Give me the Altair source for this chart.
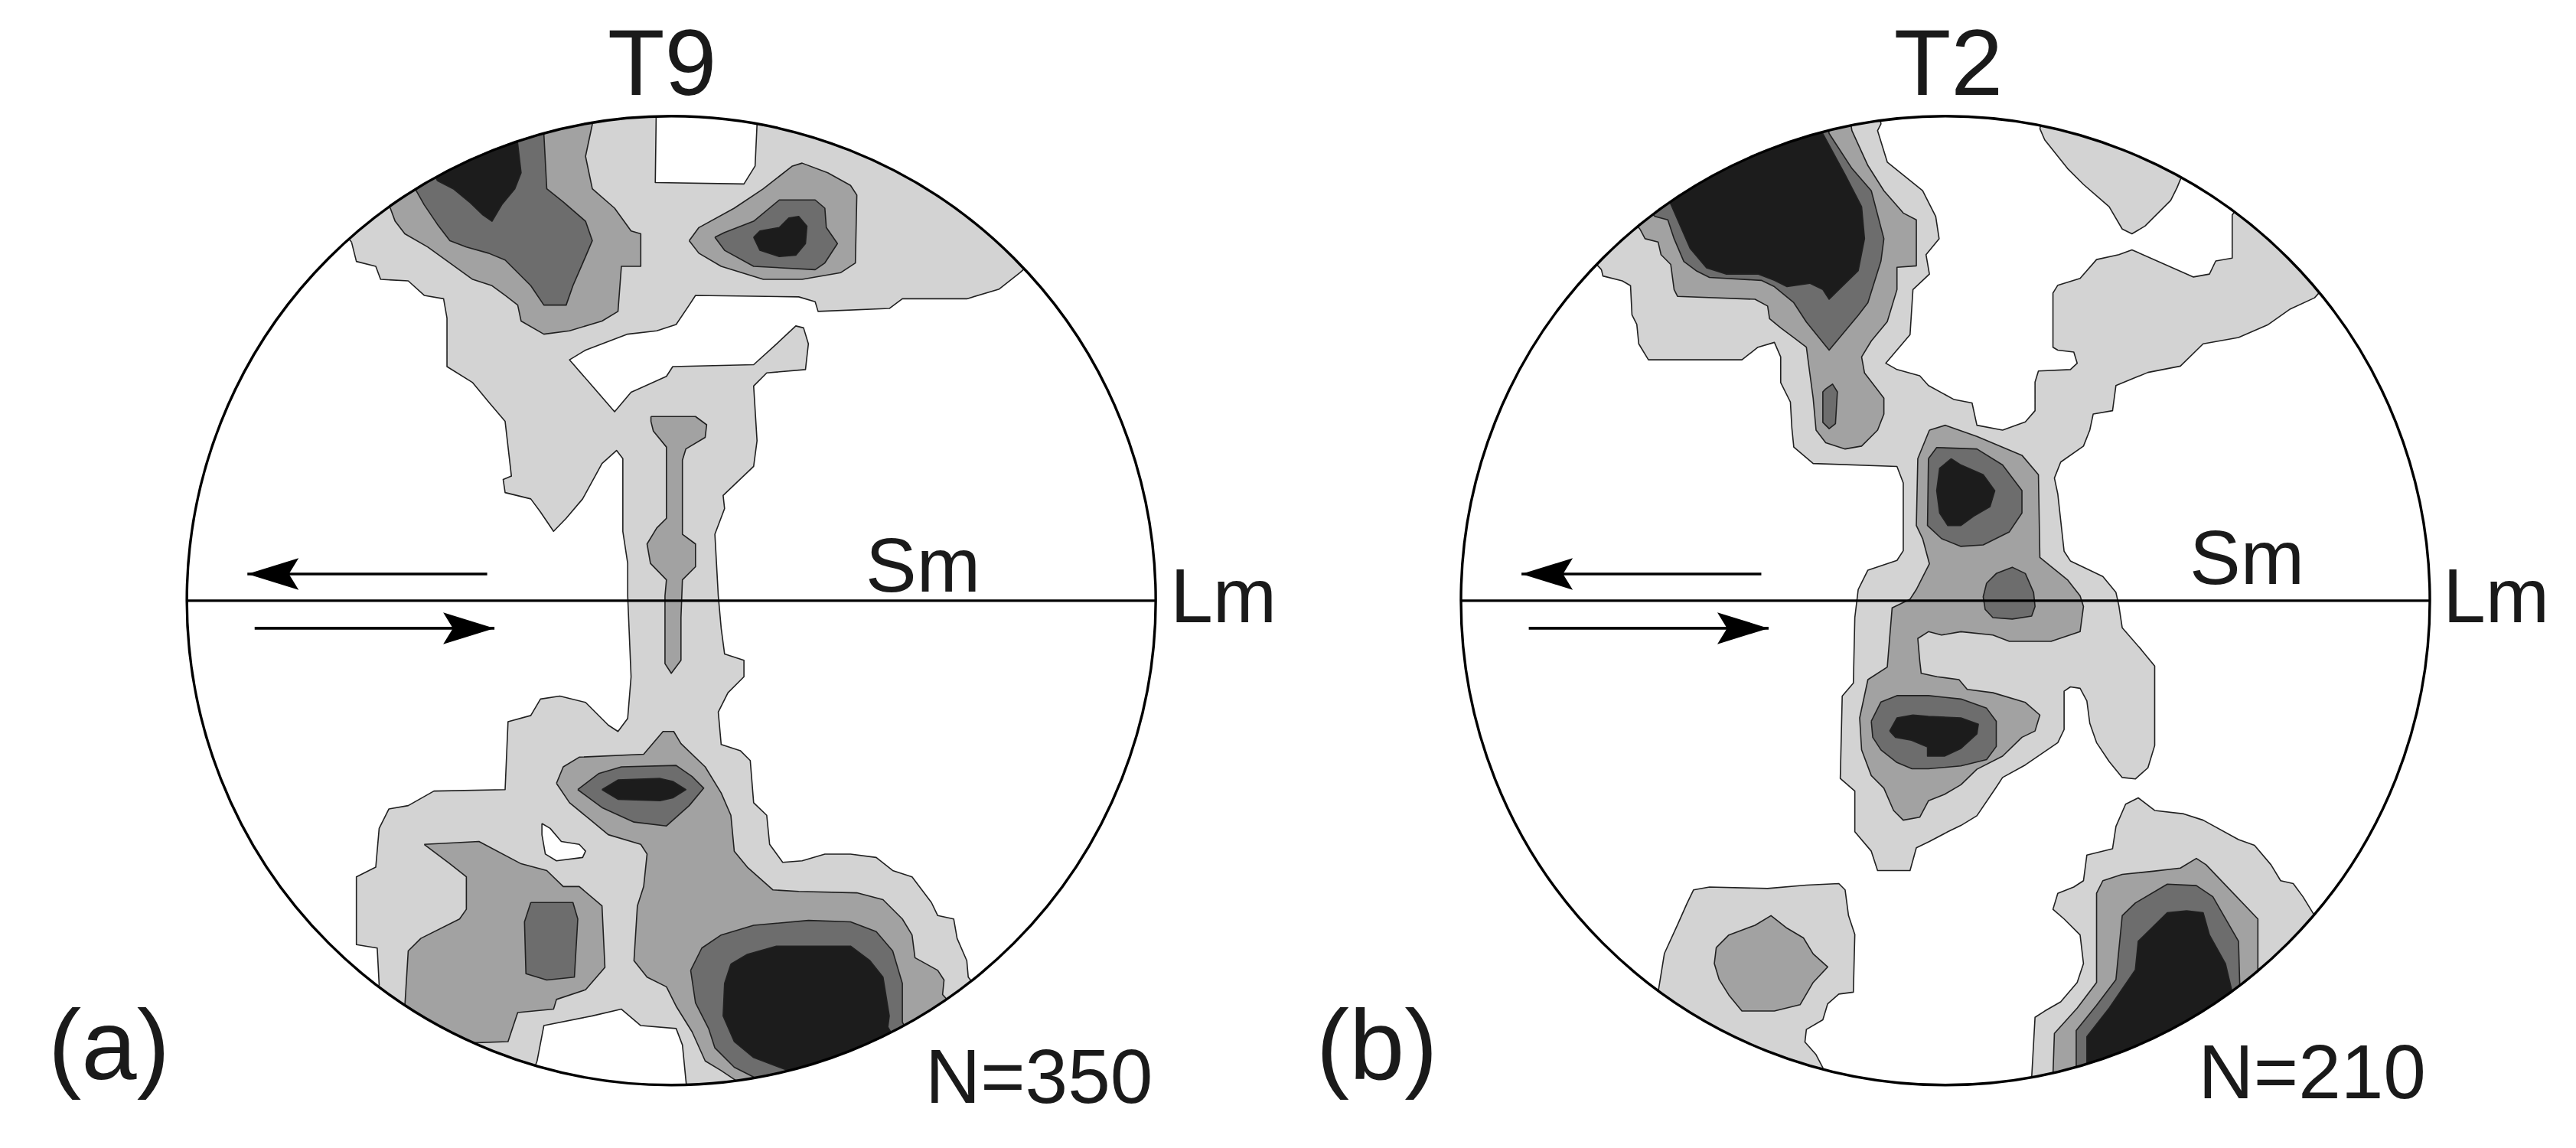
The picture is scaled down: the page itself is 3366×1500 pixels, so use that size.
import altair as alt
import pandas as pd

# ---------------------------------------------------------------------------
# Net coordinates: percent of the net radius, x to the right, y upward.
# Level: 1 = light grey, 0 = white gap, 2 = medium grey, 3 = dark grey, 4 = black
# ---------------------------------------------------------------------------

# ----- (a) T9, N=350 -----
A_LIGHT = [(-66, 74), (-73, 82), (-38, 103), (-3, 109), (-3.3, 86.3), (15, 86), (17.3, 89.7), (17.7, 98.3),
           (19, 108), (55, 93), (79, 74), (72, 67.7), (67.7, 64.3), (61, 62.3), (47.7, 62.3), (45, 60.3),
           (30.3, 59.7), (29.7, 61.7), (26.3, 62.7), (5, 63), (3.7, 61), (1, 57), (-3, 55.7), (-9, 55),
           (-17.7, 51.7), (-21, 49.7), (-11.7, 39), (-8.3, 43), (-1, 46.3), (0.3, 48.3), (17, 48.7),
           (21, 52.3), (25.7, 56.7), (27.3, 56.3), (28.3, 53), (27.7, 47.7), (19.7, 47), (17, 44.3),
           (17.7, 33), (17, 27.7), (10.7, 21.7), (11, 19), (9, 13.7), (9.7, 1), (10.3, -5.7), (11, -11),
           (15, -12.3), (15, -15.7), (11.7, -19), (9.7, -23), (10.3, -29.7), (14.3, -31), (16.3, -33),
           (17, -41.7), (19.7, -44.3), (20.3, -50.3), (23, -54), (27, -53.7), (31.7, -52.3), (37, -52.3),
           (42.3, -53), (45.7, -55.7), (49.7, -57), (53.7, -62.3), (55, -65), (58.3, -65.7), (59, -69.7),
           (61, -74.3), (61.3, -77.7), (68, -86), (29, -104), (4, -109), (2.3, -91.7), (1, -88.3),
           (-6.3, -87.7), (-10.3, -84.3), (-16.3, -85.7), (-26.3, -87.7), (-27.7, -95), (-31, -104),
           (-55, -93), (-66, -86), (-60.3, -79.3), (-60.7, -71.7), (-65, -71), (-65, -57), (-61, -55),
           (-60.3, -47), (-58.3, -43), (-54.3, -42.3), (-49, -39.3), (-34.3, -39), (-33.7, -25), (-29, -23.7),
           (-27, -20.3), (-23, -19.7), (-17.7, -21), (-13, -25.7), (-11, -27), (-9, -24.3), (-8.3, -15.7),
           (-9, 1), (-9, 7.7), (-10, 14.3), (-10, 29.3), (-11.3, 31), (-14.3, 28.3), (-18.3, 21),
           (-21.7, 17), (-24.3, 14.3), (-27, 18.3), (-29, 21), (-34.3, 22.3), (-34.7, 25), (-33, 25.7),
           (-34.3, 37), (-37.7, 41), (-41, 45), (-46.3, 48.3), (-46.3, 58.3), (-47, 62.3), (-51, 63),
           (-54.3, 66), (-60, 66.3), (-61, 69), (-65, 70)]
A_GAP = [(-26.7, -46), (-25, -47), (-22.7, -49.7), (-19, -50.3), (-17.7, -51.7), (-18.3, -53),
         (-23.7, -53.7), (-26, -52.3), (-26.7, -48.3)]
A_MED_TL = [(-58, 81), (-57, 78.3), (-55, 75.7), (-50.3, 73), (-45.7, 69.7), (-41, 66.3), (-37, 65),
            (-34.3, 63), (-31.7, 61), (-31, 57.7), (-26.3, 55), (-21, 55.7), (-14.3, 57.7), (-11, 59.7),
            (-10.3, 69), (-6.3, 69), (-6.3, 75.7), (-8.3, 76.3), (-11.7, 81), (-16.3, 85), (-17.7, 91.7),
            (-16.3, 98.3), (-18, 109), (-45, 100), (-64, 88)]
A_MED_TR = [(3.7, 74.3), (5.7, 77), (13, 81), (19, 85), (25, 89.7), (27, 90.3), (32.3, 88.3), (37, 85.7),
            (38.3, 83.7), (38, 69.7), (35, 67.7), (27, 66.3), (19, 66.3), (10.3, 69), (5.7, 71.7)]
A_MED_STEM = [(-4.2, 38), (5, 38), (7.3, 36.3), (7, 33.7), (3, 31.3), (2.3, 29), (2.3, 13.7), (5, 11.7),
              (5, 7), (2.3, 4.3), (2, -3.5), (2, -12.3), (0, -15), (-1.3, -13), (-1.3, 1), (-1, 4.3),
              (-4.3, 7.7), (-5, 11.7), (-3, 15), (-1, 17), (-1, 31.7), (-3.7, 35), (-4.2, 37)]
A_MED_C = [(-23.7, -37.7), (-22.3, -34.3), (-19, -32.3), (-5.7, -31.7), (-1.7, -27), (0.5, -27), (2, -29.5),
           (7, -34.3), (10.3, -39.7), (12.3, -44.3), (13, -51.7), (15.7, -55), (21, -59.7), (26.3, -60),
           (38.3, -60.3), (43.7, -61.7), (47.7, -65.7), (49.7, -69), (50.3, -73.7), (55, -76.3),
           (56.3, -78.3), (56, -81.3), (62, -88), (30, -104), (14, -109), (13.3, -99), (10.3, -97),
           (7, -95), (4.3, -89), (1, -83.7), (-1, -79.7), (-5, -77.7), (-7.7, -74.3), (-7, -63),
           (-5.7, -59), (-5, -52.3), (-6.3, -50.3), (-13, -48.3), (-17, -45), (-21, -41.7)]
A_MED_LL = [(-51, -50.3), (-39.7, -49.7), (-31, -54.3), (-25.7, -55.7), (-22.3, -59), (-19, -59),
            (-14.3, -63), (-13.7, -75.7), (-17.7, -80.3), (-23.7, -82.3), (-24.3, -84.3), (-31.7, -85),
            (-33.7, -91), (-42.3, -91.3), (-47, -101), (-60, -92), (-55, -83.7), (-54.3, -72.3),
            (-51.7, -69.7), (-43.7, -65.7), (-42.3, -63.7), (-42.3, -57), (-45.7, -54.3)]
A_DARK_LL = [(-29, -62.3), (-20.3, -62.3), (-19.3, -65.7), (-20, -77.7), (-25.7, -78.3), (-30, -77),
             (-30.3, -66.3)]
A_DARK_EYE = [(-19.3, -39), (-15, -35.7), (-10.3, -34.3), (1, -34), (4.3, -36.3), (6.7, -38.7),
              (3.7, -42.3), (-1, -46.5), (-7.7, -45.7), (-14.3, -42.7)]
A_BLACK_EYE = [(-14.3, -39), (-11, -37), (-2.3, -36.7), (0.3, -37.3), (3, -39), (0.3, -40.7),
               (-2.3, -41.3), (-11, -41)]
A_DARK_BR = [(4, -76.3), (6.3, -71.7), (10.3, -69), (17, -67), (28.3, -66), (37, -66.3), (42.3, -68.3),
             (45.7, -72.3), (47.7, -79), (47.7, -87), (53, -96), (19, -109), (17, -98.3), (13, -96.3),
             (9, -92.3), (7.7, -88.3), (5, -83)]
A_BLACK_BR = [(12.3, -75), (15.7, -73), (21.7, -71.3), (37, -71.3), (41, -74.3), (43.7, -77.7),
              (45, -85.7), (44.7, -88), (50, -97), (28, -108), (25, -97.3), (17, -94.3), (13, -91),
              (10.7, -85.7), (11, -79)]
A_DARK_TR = [(9, 75), (11, 76), (17, 78.3), (22.3, 82.7), (29.7, 82.7), (31.7, 81), (32, 77), (34.3, 73.7),
             (31.7, 69.7), (29.7, 68.3), (17, 69), (11, 72.3)]
A_BLACK_TR = [(17, 75), (18.3, 76.3), (22.3, 77), (24.3, 79), (26.3, 79.3), (28, 77.3), (27.7, 73.7),
              (25.7, 71.3), (22.3, 71), (18.3, 72.3)]
A_DARK_TL = [(-52.7, 84.7), (-51, 81.7), (-48.3, 77.7), (-45.7, 74.3), (-42.3, 73), (-37.7, 71.7),
             (-34.3, 70.3), (-29, 65), (-26.3, 61), (-21.7, 61), (-20.3, 65), (-17.7, 71), (-16.3, 74.3),
             (-17.7, 78.3), (-22.3, 82.3), (-25.7, 85), (-26.3, 96.3), (-29, 106), (-50, 97), (-58, 93)]
A_BLACK_TL = [(-48.3, 86.7), (-45, 85), (-41.7, 82.3), (-39, 79.7), (-37, 78.3), (-35, 81.7), (-32.3, 85),
              (-31, 88.3), (-31.7, 94.3), (-34, 104), (-52, 94)]

# ----- (b) T2, N=210 -----
B_LIGHT = [(-71, 68.3), (-70.7, 67), (-66.7, 66), (-65, 65), (-64.7, 59), (-63.7, 57), (-63.3, 53),
           (-61.3, 49.7), (-42, 49.7), (-38.7, 52.3), (-35.3, 53.3), (-34, 50.3), (-34, 45), (-32, 41),
           (-31.7, 35.7), (-31.3, 31.7), (-27.3, 28.3), (-10, 27.7), (-8.7, 24.3), (-8.7, 10.3), (-10, 8.3),
           (-16, 6.3), (-18, 2.3), (-18.7, -3.5), (-19, -17), (-21.3, -19.7), (-21.7, -36.7), (-18.7, -39.3),
           (-18.7, -47.7), (-15.3, -51.7), (-14, -55.7), (-7.3, -55.7), (-6, -51), (-3.3, -49.7),
           (0.5, -47.7), (3.2, -46.4), (6.5, -44.4), (10.5, -38.5), (11.8, -36.5), (16.5, -33.9),
           (23.2, -29.3), (24.5, -26.6), (24.5, -18.7), (25.8, -17.8), (27.8, -18.1), (29.2, -20.7),
           (29.8, -25.3), (31.2, -29.3), (33.8, -33.2), (36.5, -36.5), (39.2, -36.8), (41.8, -34.5),
           (43.2, -29.9), (43.2, -13.5), (40.5, -10.2), (36.5, -5.6), (35.8, -1), (35.2, 1.7), (32.5, 5),
           (25.8, 8.2), (24.5, 10.2), (23.2, 22), (22.5, 25.3), (23.8, 28.6), (28.5, 31.9), (29.8, 35.2),
           (30.5, 38.5), (34.5, 39.2), (35.2, 44.4), (41.8, 47.1), (48.5, 48.4), (53.2, 53), (60.5, 54.3),
           (66.5, 56.9), (71.2, 60.2), (76.2, 62.5), (83, 70), (66, 88), (59.2, 79.6), (59.2, 70.7),
           (55.8, 70.1), (54.5, 67.4), (51.2, 66.8), (38.5, 72.4), (35.8, 71.4), (31.2, 70.4), (27.8, 66.5),
           (23.2, 65.1), (22.2, 63.5), (22.2, 52.3), (23.2, 51.7), (26.5, 51.3), (27.2, 49), (25.8, 47.7),
           (19.2, 47.4), (18.5, 45.1), (18.5, 39.2), (16.5, 36.9), (11.8, 35.2), (6.5, 36.2), (5.5, 40.8),
           (1.8, 41.5), (-3.5, 44.4), (-5.3, 46.4), (-10, 47.7), (-12.3, 49), (-7.3, 54.9), (-6.7, 64.2),
           (-3.3, 67.4), (-4, 71.4), (-1.3, 74.7), (-2, 79.3), (-4.7, 84.6), (-12, 90.5), (-14, 97),
           (-13.3, 98.4), (-15, 109), (-45, 101), (-68, 84), (-78, 76)]
B_LIGHT_TR = [(19.5, 97.4), (20.5, 95.1), (25.2, 89.2), (28.5, 85.9), (33.8, 81.3), (36.5, 76.7),
              (38.5, 75.7), (41.2, 77.3), (46.5, 82.6), (47.8, 85.2), (48.5, 86.9), (54, 96), (22, 108)]
B_LIGHT_BL = [(-59.3, -80.8), (-58, -72.8), (-55.3, -66.9), (-53.3, -62.4), (-52, -59.7), (-48.7, -59.1),
              (-36.7, -59.4), (-28.7, -58.7), (-22, -58.4), (-20.7, -59.7), (-20, -65), (-18.7, -68.9),
              (-19, -80.8), (-22, -81.2), (-24.3, -83.2), (-25.3, -86.5), (-28.7, -88.5), (-29, -91.1),
              (-26.7, -93.7), (-25.3, -96.4), (-28, -107), (-56, -94), (-66, -86)]
B_MED_BL = [(-47.3, -71.6), (-44.7, -69), (-39.3, -67), (-36, -65), (-32.7, -67.6), (-29.3, -69.6),
            (-27.3, -72.9), (-24.3, -75.6), (-27.3, -78.8), (-30, -83.4), (-35.3, -84.7), (-42, -84.7),
            (-44.7, -81.4), (-46.7, -78.2), (-47.7, -74.9)]
B_LIGHT_BR = [(17.8, -98.5), (18.5, -86), (20.5, -84.7), (23.8, -82.8), (27.2, -78.8), (28.5, -74.9),
              (27.8, -69), (24.5, -65.7), (22.2, -63.7), (23.2, -60.4), (26.5, -59.1), (28.5, -57.8),
              (29.2, -52.5), (34.5, -51.2), (35.2, -46.6), (37.2, -42), (39.8, -40.7), (43.2, -43.3),
              (49.2, -44), (53.2, -45.3), (60.5, -49.3), (63.8, -50.5), (67.2, -54.5), (69.2, -57.8),
              (71.8, -58.4), (73.8, -61.1), (76.2, -65), (84, -71), (56, -94), (21, -109)]
B_MED_BR = [(22.2, -97.9), (22.5, -89.3), (27.2, -84.1), (31.2, -78.8), (31.2, -60.4), (32.5, -57.8),
            (36.5, -56.5), (43.2, -55.8), (48.5, -55.2), (51.8, -53.2), (53.8, -54.5), (64.5, -65.7),
            (64.5, -76.5), (72, -84), (50, -100), (24, -108)]
B_DARK_BR = [(27, -97.2), (27, -88.7), (31.2, -83.5), (35.2, -78.2), (36.5, -65), (39.2, -62.4),
             (45.8, -58.5), (51.8, -58.8), (55.2, -61.1), (60.5, -70.3), (60.8, -80.8), (68, -88), (30, -108)]
B_BLACK_BR = [(29.2, -96.6), (29.2, -90), (33.8, -84.1), (39.2, -76.2), (39.8, -70.3), (45.8, -64.4),
              (49.8, -64), (53.2, -64.4), (54.5, -69), (57.8, -74.9), (59.2, -80.8), (64, -87), (32, -106)]
B_MED_TL = [(-63, 76.6), (-62, 74.7), (-59.3, 74), (-58.7, 71.4), (-56.7, 69.4), (-56, 64.2), (-55.3, 62.8),
            (-39.3, 62.2), (-36.7, 60.8), (-36.3, 58.2), (-34, 56.3), (-31.3, 54.3), (-28.7, 52.3), (-28, 47),
            (-27.3, 41.8), (-26.7, 35.2), (-24.7, 32.6), (-20.7, 31.3), (-17.3, 31.9), (-14, 35.2),
            (-12.7, 38.5), (-12.7, 41.8), (-16.7, 47), (-17.3, 50.3), (-15.3, 53.6), (-12, 57.6), (-10, 64.2),
            (-10, 68.8), (-6, 69.1), (-6, 78.6), (-8.7, 80), (-12.7, 84.6), (-16, 89.8), (-19.3, 97),
            (-21, 108), (-50, 96), (-70, 85)]
B_DARK_OVAL = [(-24.7, 43.7), (-23.3, 44.7), (-22.3, 43.1), (-22.7, 36.5), (-24, 35.5), (-25.3, 36.8),
               (-25.3, 43.1)]
B_DARK_TL = [(-60, 79.3), (-57.3, 78.6), (-56, 74.7), (-54, 70), (-51.3, 68), (-48.7, 66.7), (-38, 66.1),
             (-35.3, 64.8), (-31.3, 61.5), (-28.7, 57.5), (-24, 51.7), (-18, 58.9), (-16, 61.5), (-13.3, 70.1),
             (-12.7, 74.7), (-15.3, 84.6), (-19.3, 89.2), (-24, 96.4), (-26, 107), (-50, 96), (-66, 88)]
B_BLACK_TL = [(-56.7, 81.9), (-52.7, 72.7), (-49.3, 68.7), (-45.3, 67.4), (-38.7, 67.4), (-35.3, 66.1),
              (-32.7, 64.8), (-28, 65.5), (-25.3, 64.2), (-24, 62.2), (-22, 64.2), (-18, 68.1), (-16.7, 74.7),
              (-17.3, 81.3), (-20.7, 87.9), (-25.3, 96.4), (-27, 107), (-50, 97), (-62, 88)]
B_MED_C = [(-3.3, 35.2), (0, 36.2), (6.5, 33.9), (15.8, 30), (19.2, 26), (19.5, 8.9), (25.2, 4.3),
           (27.8, 1), (28.5, -1.2), (27.8, -6.4), (21.8, -8.4), (13.2, -8.4), (9.8, -7.1), (3.2, -6.4),
           (-0.8, -7.1), (-3.5, -6.4), (-5.7, -7.8), (-5.3, -12.4), (-5, -15), (-1.7, -15.7), (2.8, -16.3),
           (4.5, -18.3), (9.8, -19), (16.5, -21), (19.5, -23.6), (18.5, -26.9), (15.8, -28.2), (11.8, -32.1),
           (6.5, -34.8), (3.2, -38), (-0.2, -40), (-3.5, -41.3), (-5.3, -44.7), (-8.7, -45.3), (-10.7, -43.3),
           (-12.7, -38.7), (-15.3, -36.1), (-17.3, -30.8), (-17.7, -24.2), (-16, -16.3), (-12, -13.7),
           (-11, -1.5), (-7.3, 0.3), (-6, 2.3), (-3.3, 7.6), (-4.7, 12.8), (-6, 15.5), (-5.7, 29.3)]
B_DARK_UE = [(-3.5, 29.3), (-1.8, 31.6), (6.5, 31.3), (11.8, 28), (15.8, 22.7), (15.8, 18.1), (13.2, 14.2),
             (7.8, 11.5), (3.2, 11.2), (-0.8, 12.8), (-3.7, 15.5)]
B_BLACK_UE = [(1.2, 29.3), (3.2, 28), (7.8, 26), (10.2, 22.7), (9.2, 19.4), (5.8, 17.4), (3.2, 15.5),
              (0.5, 15.5), (-1.2, 18.1), (-1.8, 22.7), (-1.2, 27.3)]
B_DARK_SMALL = [(8.5, 3.6), (10.5, 5.6), (13.8, 6.9), (16.5, 5.6), (18.2, 1.7), (18.5, -1.2), (17.8, -3.2),
                (13.8, -3.8), (9.8, -3.5), (8.2, -1.8), (7.8, 0.8)]
B_DARK_LE = [(-15.3, -24.9), (-13.3, -20.9), (-10, -19.6), (-3.5, -19.6), (3.2, -20.3), (8.5, -22.2),
             (10.5, -24.9), (10.5, -30.1), (8.5, -32.8), (3.2, -34.1), (-3.5, -34.7), (-6.9, -34.7),
             (-10, -33.4), (-13.3, -30.8), (-15, -28.2)]
B_BLACK_LE = [(-11.5, -26.9), (-10, -24.2), (-6.7, -23.6), (-3.5, -23.9), (3.2, -24.2), (6.8, -25.5),
              (6.5, -27.5), (3.2, -30.5), (-0.2, -32.1), (-3.7, -32.1), (-3.7, -30.2), (-7, -28.8),
              (-10.3, -28.2)]

CONTOURS = [
    ("a", 1, A_LIGHT), ("a", 0, A_GAP), ("a", 2, A_MED_TL), ("a", 2, A_MED_TR), ("a", 2, A_MED_STEM),
    ("a", 2, A_MED_C), ("a", 2, A_MED_LL), ("a", 3, A_DARK_LL), ("a", 3, A_DARK_EYE), ("a", 4, A_BLACK_EYE),
    ("a", 3, A_DARK_BR), ("a", 4, A_BLACK_BR), ("a", 3, A_DARK_TR), ("a", 4, A_BLACK_TR),
    ("a", 3, A_DARK_TL), ("a", 4, A_BLACK_TL),
    ("b", 1, B_LIGHT), ("b", 1, B_LIGHT_TR), ("b", 1, B_LIGHT_BL), ("b", 2, B_MED_BL), ("b", 1, B_LIGHT_BR),
    ("b", 2, B_MED_BR), ("b", 3, B_DARK_BR), ("b", 4, B_BLACK_BR), ("b", 2, B_MED_TL), ("b", 3, B_DARK_OVAL),
    ("b", 3, B_DARK_TL), ("b", 4, B_BLACK_TL), ("b", 2, B_MED_C), ("b", 3, B_DARK_UE), ("b", 4, B_BLACK_UE),
    ("b", 3, B_DARK_SMALL), ("b", 3, B_DARK_LE), ("b", 4, B_BLACK_LE),
]

PANELS = ["a", "b"]
TITLES = ["T9", "T2"]
PANEL_LABELS = ["(a)", "(b)"]
COUNTS = ["N=350", "N=210"]
PLANE_LABEL = "Sm"
LINE_LABEL = "Lm"

# layout of the two nets (net units: radius = 100)
PANEL_OFFSET = {"a": 0.0, "b": 263.0}
R_PX = 633
X_DOMAIN = [-137.3, 391.9]
Y_DOMAIN = [-111.7, 122.7]

LEVEL_FILL = {1: "#d3d3d3", 0: "#ffffff", 2: "#a2a2a2", 3: "#6d6d6d", 4: "#1c1c1c"}
DRAW_ORDER = [1, 0, 2, 3, 4]
FONT = "Liberation Sans"

rows = []
for pid, (panel, level, pts) in enumerate(CONTOURS):
    off = PANEL_OFFSET[panel]
    ring = list(pts) + [pts[0]]
    for i, (x, y) in enumerate(ring):
        rows.append({"poly": pid, "level": level, "i": i, "x": x + off, "y": y})
contours = pd.DataFrame(rows)

centers = pd.DataFrame({"x": [PANEL_OFFSET[p] for p in PANELS], "y": [0.0, 0.0]})
diam = pd.DataFrame({"x": [PANEL_OFFSET[p] - 100 for p in PANELS],
                     "x2": [PANEL_OFFSET[p] + 100 for p in PANELS], "y": [0.0, 0.0]})

# shear-sense arrows (net units): tail x, tip x, y
ARROWS = [(-38, -87.5, 5.5, "left"), (-86, -36.5, -5.7, "right")]
arrow_rows = []
for p in PANELS:
    for tail, tip, y, d in ARROWS:
        arrow_rows.append({"x": PANEL_OFFSET[p] + tail, "x2": PANEL_OFFSET[p] + tip, "y": y, "dir": d})
arrows = pd.DataFrame(arrow_rows)

titles = pd.DataFrame({"x": [-1.9, 263.6], "y": [104.4, 104.4], "t": TITLES})
plabels = pd.DataFrame({"x": [-128.6, 133.1], "y": [-98.8, -98.8], "t": PANEL_LABELS})
sm = pd.DataFrame({"x": [40.1, 313.4], "y": [1.8, 3.4], "t": [PLANE_LABEL, PLANE_LABEL]})
lm = pd.DataFrame({"x": [103.0, 365.7], "y": [-4.5, -4.5], "t": [LINE_LABEL, LINE_LABEL]})
counts = pd.DataFrame({"x": [99.4, 362.2], "y": [-103.6, -102.7], "t": COUNTS})

X = alt.X("x:Q", scale=alt.Scale(domain=X_DOMAIN, nice=False, zero=False), axis=None)
Y = alt.Y("y:Q", scale=alt.Scale(domain=Y_DOMAIN, nice=False, zero=False), axis=None)

layers = []
for lev in DRAW_ORDER:
    layers.append(
        alt.Chart(contours).transform_filter(alt.datum.level == lev)
        .mark_line(fill=LEVEL_FILL[lev], stroke="#202020", strokeWidth=1.6, strokeJoin="round", clip=True)
        .encode(x=X, y=Y, detail="poly:N", order="i:Q")
    )

mask = alt.Chart(centers).mark_arc(innerRadius=R_PX + 1, outerRadius=R_PX + 115, theta=0, theta2=6.2832,
                                   fill="white", strokeWidth=0).encode(x=X, y=Y)
circle = alt.Chart(centers).mark_arc(radius=R_PX, theta=0, theta2=6.2832, fillOpacity=0,
                                     stroke="black", strokeWidth=3.4).encode(x=X, y=Y)
diameter = alt.Chart(diam).mark_rule(color="black", strokeWidth=3.2).encode(x=X, x2="x2:Q", y=Y)
shafts = alt.Chart(arrows).mark_rule(color="black", strokeWidth=3.6).encode(x=X, x2="x2:Q", y=Y)
head_left = alt.Chart(arrows).transform_filter(alt.datum.dir == "left").mark_point(
    shape="M0,0 L2,-0.62 L1.62,0 L2,0.62 Z", size=4489, filled=True, color="black", opacity=1, strokeWidth=0
).encode(x=alt.X("x2:Q", scale=alt.Scale(domain=X_DOMAIN, nice=False, zero=False), axis=None), y=Y)
head_right = alt.Chart(arrows).transform_filter(alt.datum.dir == "right").mark_point(
    shape="M0,0 L-2,-0.62 L-1.62,0 L-2,0.62 Z", size=4489, filled=True, color="black", opacity=1, strokeWidth=0
).encode(x=alt.X("x2:Q", scale=alt.Scale(domain=X_DOMAIN, nice=False, zero=False), axis=None), y=Y)

def text_layer(df, size, align):
    return alt.Chart(df).mark_text(font=FONT, fontSize=size, align=align, baseline="alphabetic",
                                   color="#1a1a1a").encode(x=X, y=Y, text="t:N")

chart = alt.layer(
    *layers, mask, circle, diameter, shafts, head_left, head_right,
    text_layer(titles, 122, "center"), text_layer(plabels, 130, "left"),
    text_layer(sm, 100, "left"), text_layer(lm, 100, "left"), text_layer(counts, 100, "right"),
).properties(
    width=3350, height=1484, padding=0, autosize=alt.AutoSizeParams(type="none"), background="white"
).configure_view(stroke=None)

chart.save("out.html", embed_options={"renderer": "svg", "actions": False})
